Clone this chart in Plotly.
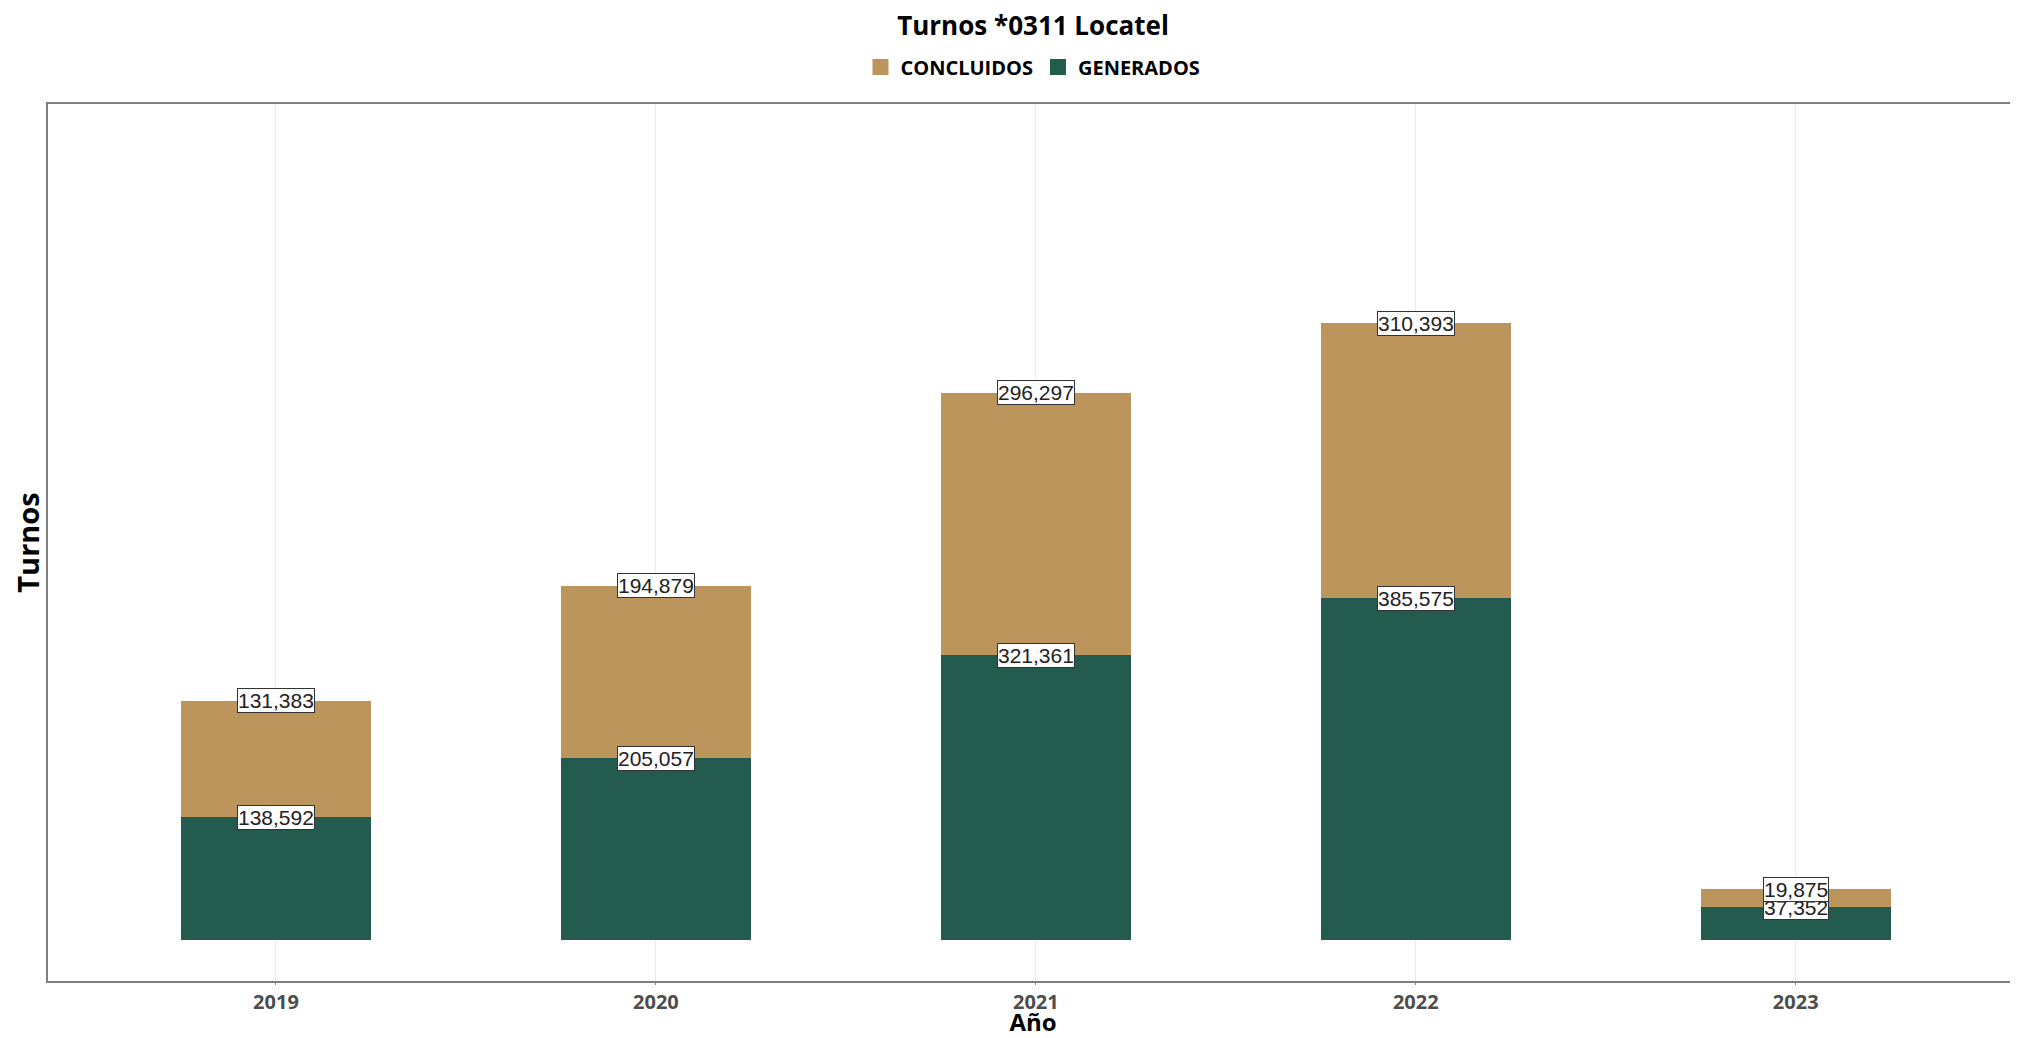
import plotly.graph_objects as go

years = ["2019", "2020", "2021", "2022", "2023"]
generados = [138592, 205057, 321361, 385575, 37352]
concluidos = [131383, 194879, 296297, 310393, 19875]

C_TAN = "#BC955C"
C_GREEN = "#235B4E"
BOLD = "Open Sans, Lato, sans-serif"

fig = go.Figure()
fig.add_trace(go.Bar(x=years, y=generados, name="GENERADOS", marker_color=C_GREEN,
                     marker_line_width=0, width=0.5, showlegend=False))
fig.add_trace(go.Bar(x=years, y=concluidos, name="CONCLUIDOS", marker_color=C_TAN,
                     marker_line_width=0, width=0.5, showlegend=False))
# legend entries with larger square keys
for nm, col in [("CONCLUIDOS", C_TAN), ("GENERADOS", C_GREEN)]:
    fig.add_trace(go.Scatter(x=[None], y=[None], mode="markers", name=nm,
                             marker=dict(symbol="square", size=20, color=col)))

label_font = dict(family="Liberation Sans, Arial, sans-serif", size=21, color="#222222")
annotations = []
for i, g in enumerate(generados):
    annotations.append(dict(x=i, y=g, xref="x", yref="y", text=f"{g:,}", showarrow=False,
                            font=label_font, bgcolor="white", bordercolor="#333333",
                            borderwidth=1, borderpad=0))
for i, (g, c) in enumerate(zip(generados, concluidos)):
    annotations.append(dict(x=i, y=g + c, xref="x", yref="y", text=f"{c:,}", showarrow=False,
                            font=label_font, bgcolor="white", bordercolor="#333333",
                            borderwidth=1, borderpad=0))

fig.update_layout(
    width=2010, height=1030,
    barmode="stack",
    paper_bgcolor="white", plot_bgcolor="white",
    margin=dict(l=40, r=0, t=96, b=57, autoexpand=False),
    title=dict(text="Turnos *0311 Locatel", x=0.5, xref="paper", y=1 - 18 / 1030, yref="container",
               xanchor="center", yanchor="middle",
               font=dict(family=BOLD, size=26, color="black", weight="bold")),
    legend=dict(orientation="h", x=0.5, xanchor="center", xref="paper",
                y=1 - 59 / 1030, yref="container", yanchor="middle", traceorder="normal",
                font=dict(family=BOLD, size=20, color="black", weight="bold"),
                itemwidth=30, tracegroupgap=0, itemsizing="trace"),
    annotations=annotations,
    xaxis=dict(type="category", range=[-0.6, 4.585], showgrid=True, gridcolor="#ebebeb", gridwidth=1,
               showline=True, linecolor="#7f7f7f", linewidth=1.5, mirror=True,
               ticks="outside", ticklen=2, tickcolor="#7f7f7f",
               tickfont=dict(family=BOLD, size=20, color="#4d4d4d", weight="bold"),
               title=dict(text="Año", standoff=7,
                          font=dict(family=BOLD, size=24, color="black", weight="bold"))),
    yaxis=dict(range=[-46000, 943000], showgrid=False, zeroline=False, showticklabels=False,
               showline=True, linecolor="#7f7f7f", linewidth=1.5, ticks="",
               title=dict(text="Turnos", standoff=10,
                          font=dict(family=BOLD, size=29, color="black", weight="bold"))),
)

fig.write_html("out.html")
